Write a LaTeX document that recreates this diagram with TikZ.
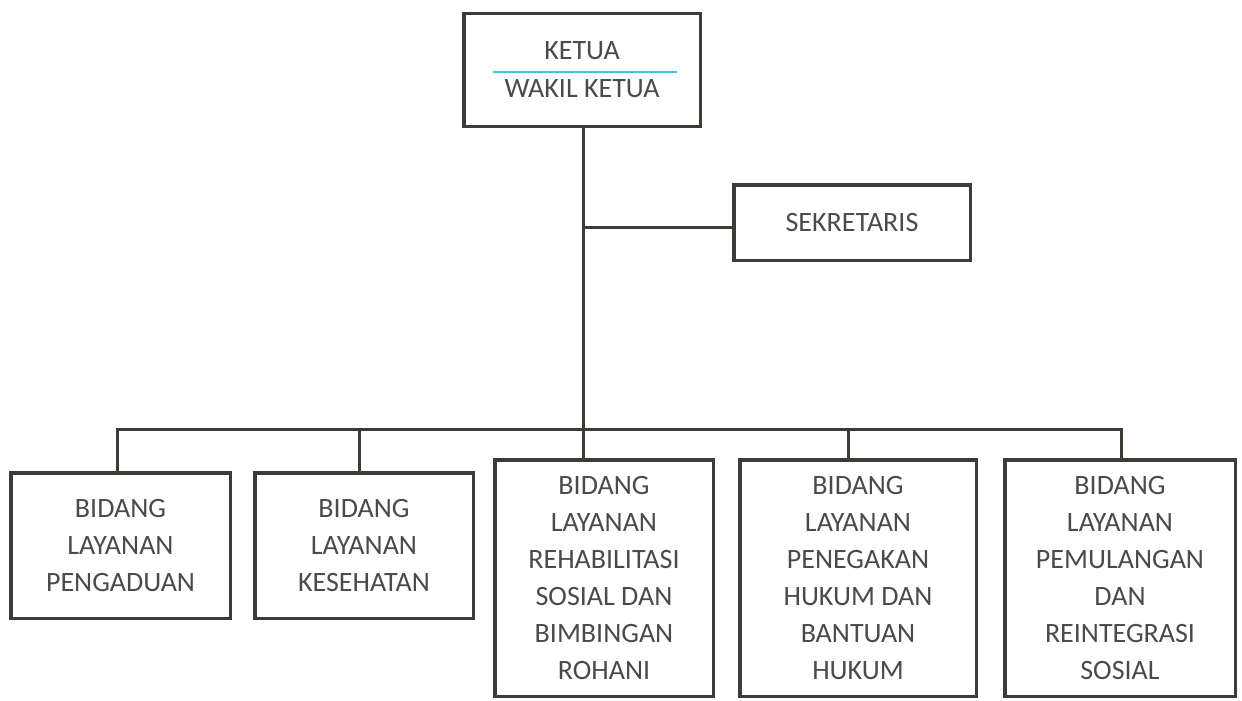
\documentclass[tikz,border=0pt]{standalone}
\usepackage{fontspec}
\setmainfont{Carlito}
\usepackage{tikz}
\usetikzlibrary{positioning}
\definecolor{linegray}{HTML}{3A3D36}
\definecolor{textgray}{HTML}{4A4A48}
\definecolor{rulecyan}{HTML}{3EC3E6}

\begin{document}
\begin{tikzpicture}[x=1pt,y=-1pt,every node/.style={draw=linegray,line width=3.5pt,rectangle,inner sep=0pt,align=center,text=textgray,font=\fontsize{28}{37}\selectfont},
  link/.style={draw=linegray,line width=3pt}]
  \useasboundingbox (0,0) rectangle (1242,701);
  \node[minimum width=236.5pt,minimum height=112.5pt](ketua) at (582,70) {KETUA\\[1pt]WAKIL KETUA};
  \node[minimum width=236.5pt,minimum height=75.5pt](sekretaris) at (852,222.5) {SEKRETARIS};
  \node[minimum width=219.5pt,minimum height=145.5pt](pengaduan) at (120.5,545.5) {BIDANG\\LAYANAN\\PENGADUAN};
  \node[minimum width=218.5pt,minimum height=145.5pt](kesehatan) at (364,545.5) {BIDANG\\LAYANAN\\KESEHATAN};
  \node[minimum width=218.5pt,minimum height=236.5pt](rehab) at (604,578) {BIDANG\\LAYANAN\\REHABILITASI\\SOSIAL DAN\\BIMBINGAN\\ROHANI};
  \node[minimum width=236.5pt,minimum height=236.5pt](hukum) at (858,578) {BIDANG\\LAYANAN\\PENEGAKAN\\HUKUM DAN\\BANTUAN\\HUKUM};
  \node[minimum width=230.5pt,minimum height=236.5pt](pemulangan) at (1120,578) {BIDANG\\LAYANAN\\PEMULANGAN\\DAN\\REINTEGRASI\\SOSIAL};
  % cyan rule between ketua and wakil
  \draw[rulecyan,line width=1.5pt] ([xshift=-89pt,yshift=-2pt]ketua.center) -- ([xshift=95pt,yshift=-2pt]ketua.center);
  % trunk and bus
  \coordinate (bus) at (583,429);
  \coordinate (busL) at (117,429);
  \coordinate (busR) at (1121,429);
  \draw[link] (ketua.south -| bus) -- (bus);
  \draw[link] (bus |- 0,227) -- (sekretaris.west |- 0,227);
  \draw[link] (pengaduan.north -| busL) -- (busL) -- (busR) -- (pemulangan.north -| busR);
  \draw[link] (kesehatan.north -| 359,0) -- (359,429);
  \draw[link] (rehab.north -| bus) -- (bus);
  \draw[link] (hukum.north -| 848,0) -- (848,429);
\end{tikzpicture}
\end{document}
